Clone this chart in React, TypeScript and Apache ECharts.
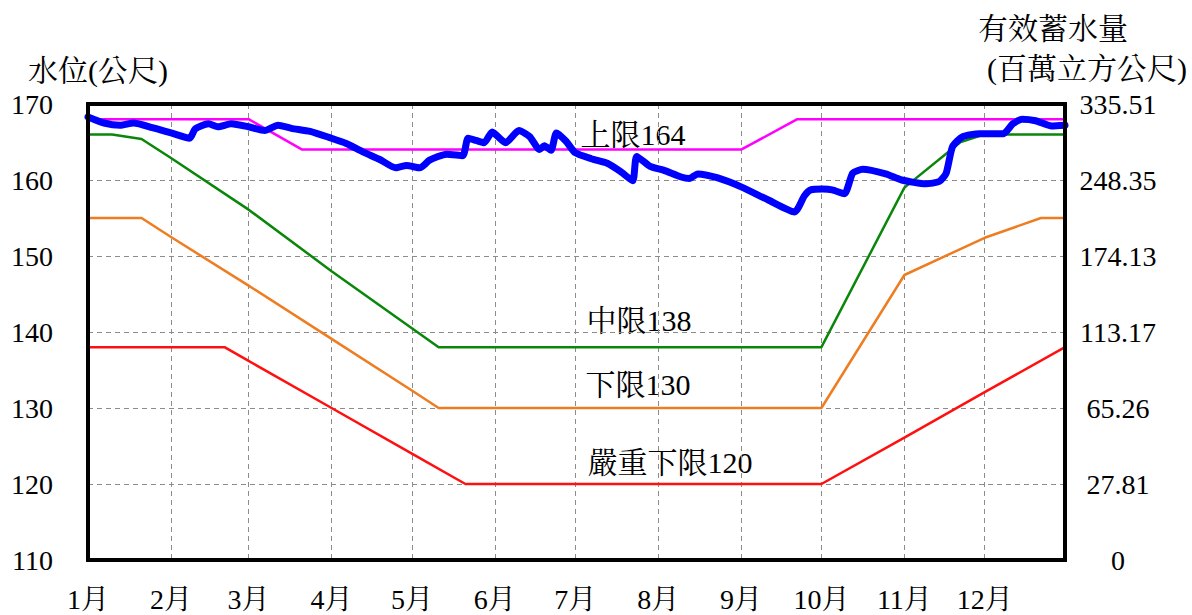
import React, { useEffect, useRef } from "react";
import * as echarts from "echarts";

// x = day index of a leap year (0 = Jan 1, 365 = Dec 31)
const monthStarts = [0, 31, 60, 91, 121, 152, 182, 213, 244, 274, 305, 335];
const monthLabels = ["1月", "2月", "3月", "4月", "5月", "6月", "7月", "8月", "9月", "10月", "11月", "12月"];

const levelTicks = [110, 120, 130, 140, 150, 160, 170];
const storageLabels = ["0", "27.81", "65.26", "113.17", "174.13", "248.35", "335.51"];

const upperRule: [number, number][] = [[0, 168], [60, 168], [80, 164], [244, 164], [265, 168], [365, 168]];
const middleRule: [number, number][] = [[0, 166], [9, 166], [20, 165.4], [31, 162.9], [60, 156.1], [91, 148.0], [121, 140.5], [131, 138], [274, 138], [305, 159.0], [326, 165.0], [335, 166], [365, 166]];
const lowerRule: [number, number][] = [[0, 155], [20, 155], [31, 152.5], [60, 146.1], [91, 139.1], [121, 132.3], [131, 130], [274, 130], [305, 147.5], [335, 152.4], [356, 155], [365, 155]];
const severeRule: [number, number][] = [[0, 138], [51, 138], [60, 136.2], [91, 130], [121, 124], [141, 120], [274, 120], [305, 126.1], [335, 132.1], [365, 138]];

const waterLevel: [number, number][] = [
  [0, 168.3], [6, 167.5], [12, 167.2], [17, 167.5], [24, 166.9], [31, 166.2], [38, 165.5], [40, 166.7],
  [45, 167.4], [48.5, 167.0], [53.5, 167.4], [60, 167.0], [66, 166.5], [71, 167.2], [76, 166.8], [83, 166.4],
  [90, 165.6], [96.5, 164.8], [102.7, 163.7], [109, 162.7], [115, 161.6], [119, 161.9], [124, 161.6],
  [127.6, 162.6], [134, 163.4], [140, 163.2], [142, 165.5], [145, 165.2], [148, 164.9], [151, 166.3],
  [156, 164.9], [161, 166.5], [165, 165.7], [168.7, 164.0], [170.5, 164.5], [173, 163.9], [175, 166.2],
  [178.6, 165.1], [182, 163.6], [188, 162.8], [194, 162.2], [199, 161.1], [203.5, 159.9], [205, 163.1],
  [210, 161.8], [215, 161.3], [221.6, 160.4], [224.7, 160.2], [227.8, 160.8], [235, 160.3], [244, 159.1],
  [254, 157.4], [264, 155.8], [267.6, 157.9], [270, 158.7], [274.5, 158.8], [278, 158.7], [282.6, 158.2],
  [285.7, 160.9], [289.4, 161.4], [298, 160.8], [304, 160.0], [313, 159.5], [318, 159.8], [320.6, 160.9],
  [323, 164.4], [326.8, 165.7], [333, 166.1], [342, 166.1], [345.5, 167.4], [349, 168.0], [354, 167.8],
  [360, 167.1], [365, 167.2],
];

const FONT = "'Liberation Serif', 'Times New Roman', 'Noto Serif CJK TC', 'Noto Sans CJK TC', serif";

export default function App() {
  const ref = useRef<HTMLDivElement>(null);
  useEffect(() => {
    if (!ref.current) return;
    const chart = echarts.init(ref.current, null, { renderer: "svg" });
    const text = (t: string, x: number, y: number, size: number, align = "center") => ({
      type: "text",
      x,
      y,
      style: {
        text: t,
        fill: "#000",
        font: `${size}px ${FONT}`,
        textAlign: align,
        textVerticalAlign: "middle",
      },
    });
    const ruleSeries = (data: [number, number][], color: string) => ({
      type: "line",
      data,
      yAxisIndex: 0,
      symbol: "none",
      lineStyle: { color, width: 2.5 },
      z: 3,
    });
    chart.setOption({
      animation: false,
      backgroundColor: "#fff",
      textStyle: { fontFamily: FONT },
      grid: {
        left: 88,
        top: 104,
        width: 977,
        height: 456,
        show: true,
        borderColor: "#000",
        borderWidth: 4,
        backgroundColor: "transparent",
        z: 10,
      },
      xAxis: {
        type: "value",
        min: 0,
        max: 365,
        axisLine: { show: false },
        axisTick: { show: false, customValues: monthStarts },
        axisLabel: {
          customValues: monthStarts,
          formatter: (v: number) => monthLabels[monthStarts.indexOf(v)] ?? "",
          fontSize: 28,
          color: "#000",
          fontFamily: FONT,
          margin: 25,
        },
        splitLine: { show: true, lineStyle: { color: "#8c8c8c", type: [5, 4], width: 1 } },
      },
      yAxis: [
        {
          type: "value",
          min: 110,
          max: 170,
          interval: 10,
          axisLine: { show: false },
          axisTick: { show: false },
          axisLabel: { fontSize: 28, color: "#000", fontFamily: FONT, margin: 35 },
          splitLine: { show: true, lineStyle: { color: "#8c8c8c", type: [5, 4], width: 1 } },
        },
        {
          type: "value",
          min: 110,
          max: 170,
          interval: 10,
          position: "right",
          axisLine: { show: false },
          axisTick: { show: false },
          splitLine: { show: false },
          axisLabel: {
            fontSize: 28,
            color: "#000",
            fontFamily: FONT,
            align: "center",
            margin: 53,
            formatter: (v: number) => storageLabels[levelTicks.indexOf(v)] ?? "",
          },
        },
      ],
      graphic: [
        text("水位(公尺)", 28, 70, 30, "left"),
        text("有效蓄水量", 1053, 28, 30),
        text("(百萬立方公尺)", 1087, 68, 30),
        text("上限164", 633, 134, 30),
        text("中限138", 639, 320, 30),
        text("下限130", 638, 384, 30),
        text("嚴重下限120", 670, 462, 30),
      ],
      series: [
        ruleSeries(upperRule, "#ff00ff"),
        ruleSeries(middleRule, "#0a870a"),
        ruleSeries(lowerRule, "#ee7d22"),
        ruleSeries(severeRule, "#ff1010"),
        {
          type: "line",
          data: waterLevel,
          yAxisIndex: 0,
          symbol: "none",
          smooth: 0.2,
          lineStyle: { color: "#0000ff", width: 7, cap: "round", join: "round" },
          z: 4,
        },
      ],
    });
    return () => chart.dispose();
  }, []);
  return (
    <div
      ref={ref}
      style={{ position: "absolute", left: 0, top: 0, width: 1192, height: 615 }}
    />
  );
}
